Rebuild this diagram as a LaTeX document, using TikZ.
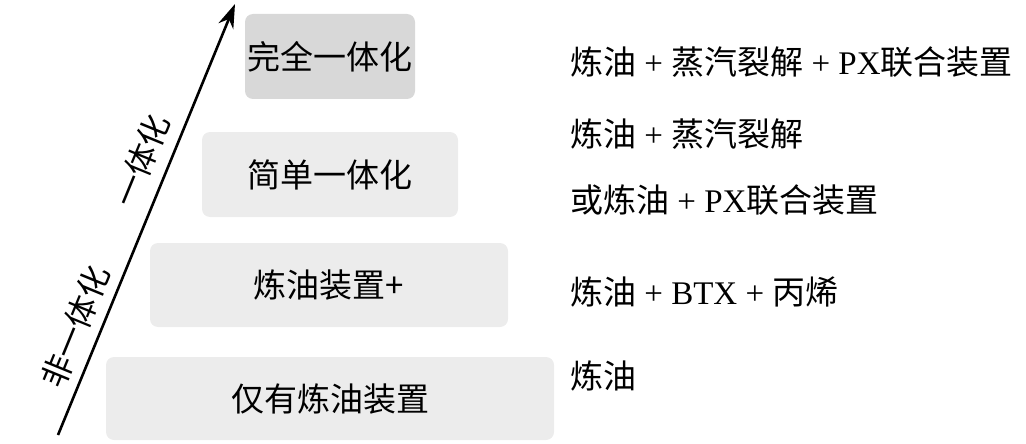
\documentclass[tikz,border=0pt]{standalone}
\usepackage{fontspec}
\setmainfont{Liberation Serif}
\newfontfamily\cjk{Noto Sans CJK SC}
\usetikzlibrary{arrows.meta}
\definecolor{boxdark}{HTML}{D8D8D8}
\definecolor{boxlight}{HTML}{ECECEC}
\tikzset{
  stage/.style={rounded corners=8pt, inner sep=0pt, font=\fontsize{33}{36}\selectfont\cjk},
  righttext/.style={anchor=west, inner sep=0pt, font=\fontsize{33}{36}\selectfont},
  axislabel/.style={sloped, inner sep=0pt, font=\fontsize{32}{34}\selectfont\cjk},
}
\begin{document}
\begin{tikzpicture}[x=1pt, y=-1pt]
\useasboundingbox (0,0) rectangle (1026,444);
% stage boxes
\node[stage, fill=boxdark, minimum width=170pt, minimum height=85pt] (full) at (330,56.5) {完全一体化};
\node[stage, fill=boxlight, minimum width=256pt, minimum height=85pt] (simple) at (330,174.5) {简单一体化};
\node[stage, fill=boxlight, minimum width=358pt, minimum height=84pt] (plus) at (329,285) {炼油装置+};
\node[stage, fill=boxlight, minimum width=448pt, minimum height=83pt] (only) at (330,398.5) {仅有炼油装置};
% right texts
\node[righttext] (t1) at (570,62) {{\cjk 炼油} + {\cjk 蒸汽裂解} + PX{\cjk 联合装置}};
\node[righttext] (t2) at (570,134) {{\cjk 炼油} + {\cjk 蒸汽裂解}};
\node[righttext] (t3) at (570,200) {{\cjk 或炼油} + PX{\cjk 联合装置}};
\node[righttext] (t4) at (570,292) {{\cjk 炼油} + BTX + {\cjk 丙烯}};
\node[righttext] (t5) at (570,376) {{\cjk 炼油}};
% axis arrow
\coordinate (arrS) at (58,435);
\coordinate (arrE) at (235,4);
\draw[line width=2.6pt, -{Stealth[length=24pt, width=16pt]}] (arrS) -- (arrE)
  node[axislabel, pos=0.2286, above=9pt] (non) {非一体化}
  node[axislabel, pos=0.613, above=11pt] (integ) {一体化};
\end{tikzpicture}
\end{document}
